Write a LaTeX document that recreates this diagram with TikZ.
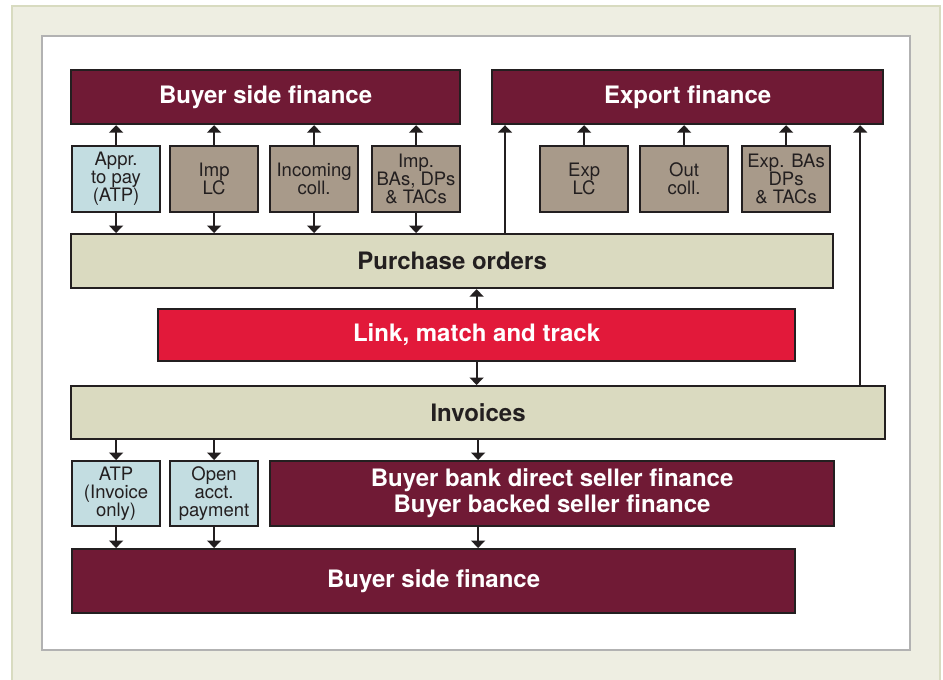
\documentclass[tikz,border=0pt]{standalone}
\usepackage{fontspec}
\setmainfont{TeX Gyre Heros}
\usetikzlibrary{arrows.meta, positioning, calc}

\definecolor{maroon}{HTML}{701A35}
\definecolor{taupe}{HTML}{A89A8A}
\definecolor{paleblue}{HTML}{C3DDE1}
\definecolor{sand}{HTML}{DADAC0}
\definecolor{alertred}{HTML}{E2193A}
\definecolor{panel}{HTML}{EEEEE2}
\definecolor{panelrim}{HTML}{D8DBC0}
\definecolor{ink}{HTML}{231F20}

\begin{document}
\begin{tikzpicture}[
    x=1pt, y=-1pt,
    box/.style={rectangle, draw=ink, line width=2.2pt, inner sep=0pt, anchor=north west, align=center},
    head/.style={box, fill=maroon, text=white, font=\fontsize{24}{26}\selectfont\bfseries},
    bar/.style={box, fill=sand, text=ink, font=\fontsize{24}{26}\selectfont\bfseries},
    small/.style={box, fill=taupe, text=ink, minimum width=88pt, minimum height=66pt, font=\fontsize{18.5}{18}\selectfont},
    atp/.style={small, fill=paleblue},
    arrow/.style={-{Triangle[width=14pt,length=7.5pt]}, line width=2pt, draw=ink}
]

% Frame
\useasboundingbox (0,0) rectangle (943,680);
\fill[white] (0,0) rectangle (943,680);
\filldraw[fill=panel, draw=panelrim, line width=1.5pt] (12,6) rectangle (940,690);
\filldraw[fill=white, draw=gray!60, line width=2pt] (42,36) rectangle (910,650);

% Nodes
\node[head, minimum width=389pt, minimum height=54pt] (bsf) at (70,69) {Buyer side finance};
\node[head, minimum width=391pt, minimum height=54pt] (exp) at (491,69) {Export finance};

\node[atp] (appr) at (71,145) {Appr.\\to pay\\(ATP)};
\node[small] (implc) at (169,145) {Imp\\LC};
\node[small] (incoll) at (269,145) {Incoming\\coll.};
\node[small] (impba) at (371,145) {Imp.\\BAs, DPs\\\& TACs};
\node[small] (explc) at (539,145) {Exp\\LC};
\node[small] (outcoll) at (639,145) {Out\\coll.};
\node[small] (expba) at (741,145) {Exp. BAs\\DPs\\\& TACs};

\node[bar, minimum width=762pt, minimum height=54pt] (po) at (70,233) {Purchase orders};
\node[head, fill=alertred, minimum width=637pt, minimum height=52pt] (link) at (157,308) {Link, match and track};
\node[bar, minimum width=814pt, minimum height=53pt] (inv) at (70,385) {Invoices};

\node[atp, minimum height=65pt] (atpinv) at (71,460) {ATP\\(Invoice\\only)};
\node[atp, minimum height=65pt] (open) at (169,460) {Open\\acct.\\payment};
\node[head, minimum width=564pt, minimum height=65pt] (bank) at (269,460) {Buyer bank direct seller finance\\Buyer backed seller finance};
\node[head, minimum width=723pt, minimum height=64pt] (bsf2) at (71,548) {Buyer side finance};

\coordinate (poup) at ($(exp.south west)+(14,0)$);
\coordinate (invup) at ($(exp.south east)+(-24,0)$);

% Arrows
\foreach \n in {appr, implc, incoll, impba} {
    \draw[arrow] (\n.north) -- (\n.north |- bsf.south);
    \draw[arrow] (\n.south) -- (\n.south |- po.north);
}
\foreach \n in {explc, outcoll, expba}
    \draw[arrow] (\n.north) -- (\n.north |- exp.south);
\draw[arrow] (po.north -| poup) -- (poup);
\draw[arrow] (inv.north -| invup) -- (invup);

\draw[arrow] (link.north) -- (link.north |- po.south);
\draw[arrow] (link.south) -- (link.south |- inv.north);

\foreach \n in {atpinv, open} {
    \draw[arrow] (\n.north |- inv.south) -- (\n.north);
    \draw[arrow] (\n.south) -- (\n.south |- bsf2.north);
}
\draw[arrow] (inv.south) -- (inv.south |- bank.north);
\draw[arrow] (bank.south -| inv.south) -- (inv.south |- bsf2.north);

\end{tikzpicture}
\end{document}
